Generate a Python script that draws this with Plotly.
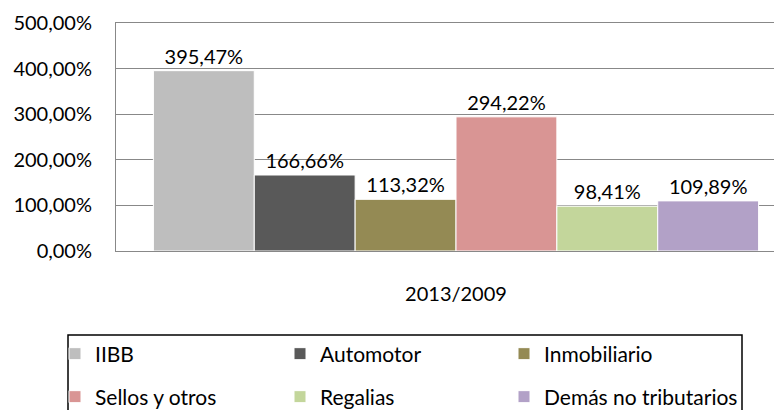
import plotly.graph_objects as go

categories = ["2013/2009"]
series_names = ["IIBB", "Automotor", "Inmobiliario", "Sellos y otros", "Regalias", "Demás no tributarios"]
series_values = [395.47, 166.66, 113.32, 294.22, 98.41, 109.89]
colors = ["#BEBEBE", "#595959", "#948A54", "#D99594", "#C3D69B", "#B2A1C7"]
y_ticks = [0, 100, 200, 300, 400, 500]
y_ticktext = ["0,00%", "100,00%", "200,00%", "300,00%", "400,00%", "500,00%"]

W, H = 782, 410
OFF = 8  # page body margin shifts the figure
FONT = "Lato"
FS = 20

fig = go.Figure()
legend_ids = ["legend", "legend2", "legend3", "legend4", "legend5", "legend6"]
for i, (name, val, col) in enumerate(zip(series_names, series_values, colors)):
    fig.add_trace(
        go.Bar(
            x=categories,
            y=[val],
            name=name,
            marker=dict(color=col, line=dict(color="white", width=1)),
            texttemplate="%{y:.2f}%",
            textposition="outside",
            textfont=dict(size=FS, color="#000000", family=FONT),
            cliponaxis=False,
            legend=legend_ids[i],
        )
    )

# legend item placement: 3 columns x 2 rows
col_x = [47, 272, 496]
row_y = [346, 389]
legends = {}
for i, lid in enumerate(legend_ids):
    legends[lid] = dict(
        orientation="h", xref="container", yref="container",
        x=col_x[i % 3] / W, y=1 - row_y[i // 3] / H,
        xanchor="left", yanchor="middle",
        font=dict(size=21, family=FONT), itemwidth=30,
        bgcolor="rgba(0,0,0,0)",
    )

plot_w = W - (116 - OFF)
fig.update_layout(
    width=W,
    height=H,
    margin=dict(l=116 - OFF, r=0, t=23 - OFF, b=H - (251 - OFF), autoexpand=False),
    separators=",.",
    barmode="group",
    bargap=0.11,
    bargroupgap=0,
    plot_bgcolor="white",
    paper_bgcolor="white",
    font=dict(family=FONT, size=FS, color="#000000"),
    showlegend=True,
    **legends,
)

fig.update_xaxes(
    type="category",
    range=[-0.5, -0.5 + plot_w / 680],
    showline=True, linecolor="#888888", linewidth=1, mirror=True,
    showgrid=False, ticks="", ticklabelstandoff=25,
    tickfont=dict(size=FS, family=FONT),
    automargin=False,
)
fig.update_yaxes(
    range=[0, 500],
    tickvals=y_ticks, ticktext=y_ticktext,
    showline=True, linecolor="#888888", linewidth=1, mirror=True,
    showgrid=True, gridcolor="#888888", gridwidth=1,
    ticks="", ticklabelstandoff=19,
    tickfont=dict(size=FS, family=FONT),
    zeroline=False,
    automargin=False,
)

# legend frame
fig.add_shape(
    type="rect", xref="paper", yref="paper",
    x0=(68 - 116) / plot_w, x1=(742 - 116) / plot_w,
    y0=-(430 - 251) / 228, y1=-(335 - 251) / 228,
    line=dict(color="#000000", width=1.5), fillcolor="rgba(0,0,0,0)",
)

fig.write_html("out.html")
